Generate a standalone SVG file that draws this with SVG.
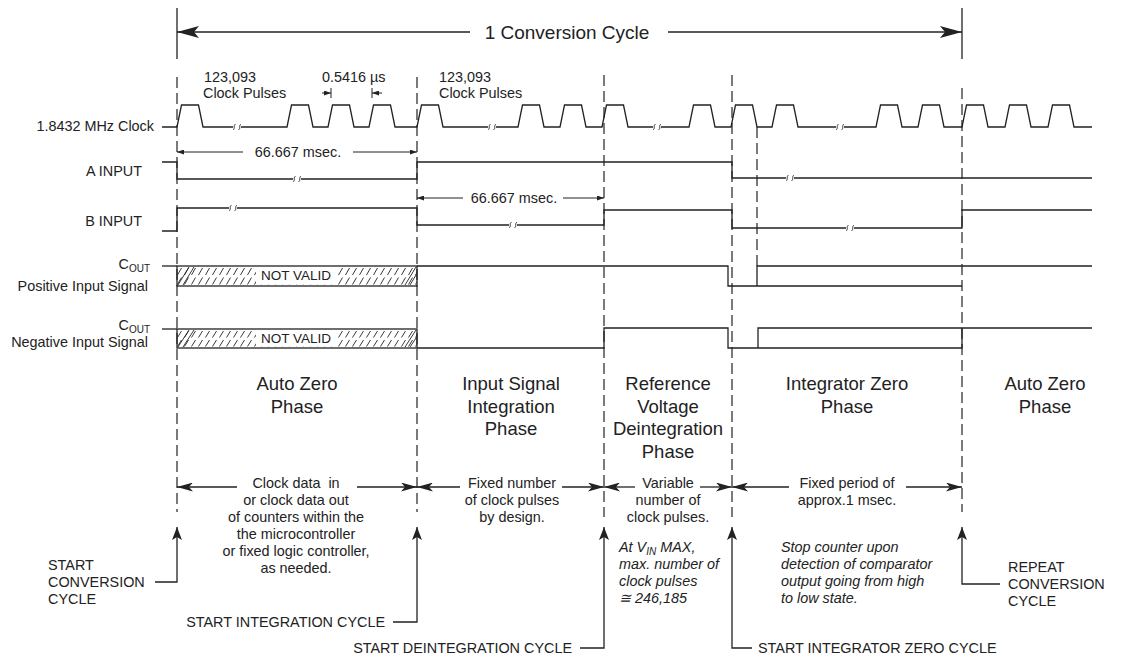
<svg xmlns="http://www.w3.org/2000/svg" width="1128" height="659" viewBox="0 0 1128 659">
<defs>
<style>
.ln{stroke:#222;stroke-width:1.3;fill:none}
.ds{stroke:#222;stroke-width:1.2;stroke-dasharray:11 5;fill:none}
.th{stroke:#222;stroke-width:0.9;fill:none}
text{font-family:"Liberation Sans",Arial,sans-serif;fill:#222}
.t{font-size:14.4px}
.tc{font-size:14.4px;text-anchor:middle}
.te{font-size:14.4px;text-anchor:end}
.ph{font-size:18.5px;text-anchor:middle}
.it{font-size:14.4px;font-style:italic}
.nv{font-size:13.5px;text-anchor:middle}
</style>
<marker id="big" markerUnits="userSpaceOnUse" markerWidth="22" markerHeight="12" viewBox="0 -6 22 12" refX="22" refY="0" orient="auto"><path d="M0,-6 L22,0 L0,6 L5,0 Z" fill="#222"/></marker>
<marker id="mid" markerUnits="userSpaceOnUse" markerWidth="16" markerHeight="9" viewBox="0 -4.5 16 9" refX="16" refY="0" orient="auto"><path d="M0,-4.5 L16,0 L0,4.5 L4,0 Z" fill="#222"/></marker>
<marker id="up" markerUnits="userSpaceOnUse" markerWidth="13" markerHeight="10" viewBox="0 -5 13 10" refX="13" refY="0" orient="auto"><path d="M0,-5 L13,0 L0,5 L3,0 Z" fill="#222"/></marker>
<marker id="sm" markerUnits="userSpaceOnUse" markerWidth="7" markerHeight="5" viewBox="0 -2.5 7 5" refX="7" refY="0" orient="auto"><path d="M0,-2.5 L7,0 L0,2.5 Z" fill="#222"/></marker>
<pattern id="hp" patternUnits="userSpaceOnUse" x="177" y="266" width="7" height="20"><path d="M0.5,9 L4.5,2 M0.5,18.5 L4.5,11.5" class="th"/></pattern>
<pattern id="hn" patternUnits="userSpaceOnUse" x="177" y="329" width="7" height="19"><path d="M0.5,8.5 L4.5,2 M0.5,17.5 L4.5,11" class="th"/></pattern>
<g id="brk"><rect x="-4" y="-1.5" width="8" height="3" fill="#fff"/><path d="M-4,2.5 C-1.5,3 -4,-3 -1.5,-2.5 M1.5,2.5 C4,3 1.5,-3 4,-2.5" stroke="#222" stroke-width="0.8" fill="none"/></g>
</defs>
<rect width="1128" height="659" fill="#fff"/>

<g id="cycle-span">
<line class="ln" x1="177" y1="8" x2="177" y2="59"/>
<line class="ln" x1="962" y1="8" x2="962" y2="59"/>
<line class="ln" x1="470" y1="32" x2="177" y2="32" marker-end="url(#big)"/>
<line class="ln" x1="668" y1="32" x2="962" y2="32" marker-end="url(#big)"/>
<text x="567" y="39" style="font-size:19px;text-anchor:middle">1 Conversion Cycle</text>
</g>

<g id="phase-boundaries">
<path class="ds" d="M177,77 V512 M417,77 V512 M604,75 V517 M732,75 V517 M757,127 V266 M962,88 V512"/>
</g>

<g id="row-labels">
<text class="te" x="154" y="131">1.8432 MHz Clock</text>
<text class="te" x="142" y="176">A INPUT</text>
<text class="te" x="142" y="226">B INPUT</text>
<text class="te" x="150" y="269">C<tspan style="font-size:10px" dy="3">OUT</tspan></text>
<text class="te" x="148" y="291">Positive Input Signal</text>
<text class="te" x="150" y="330">C<tspan style="font-size:10px" dy="3">OUT</tspan></text>
<text class="te" x="148" y="347">Negative Input Signal</text>
</g>

<g id="clock">
<path class="ln" d="M162,127 H177 L181.5,105 H198.5 L203,127 H287 L291.5,105 H308.5 L313,127 H328 L332.5,105 H349.5 L354,127 H369 L373.5,105 H390.5 L395,127 H417 L421.5,105 H438.5 L443,127 H518 L522.5,105 H539.5 L544,127 H560 L564.5,105 H581.5 L586,127 H602 L606.5,105 H623.5 L628,127 H689 L693.5,105 H710.5 L715,127 H731 L735.5,105 H752.5 L757,127 H772 L776.5,105 H793.5 L798,127 H876 L880.5,105 H897.5 L902,127 H918 L922.5,105 H939.5 L944,127 H962 L966.5,105 H983.5 L988,127 H1005 L1009.5,105 H1026.5 L1031,127 H1048 L1052.5,105 H1069.5 L1074,127 H1092"/>
<use href="#brk" x="237" y="127"/>
<use href="#brk" x="492" y="127"/>
<use href="#brk" x="657" y="127"/>
<use href="#brk" x="840" y="127"/>
<text class="t" x="204" y="82">123,093</text>
<text class="t" x="203" y="98">Clock Pulses</text>
<text class="t" x="439" y="82">123,093</text>
<text class="t" x="439" y="98">Clock Pulses</text>
<text class="t" x="322" y="82">0.5416 µs</text>
<line class="ln" x1="322" y1="93" x2="331" y2="93" marker-end="url(#sm)" style="stroke-width:1"/>
<line class="ln" x1="331" y1="88" x2="331" y2="98" style="stroke-width:1"/>
<line class="ln" x1="382" y1="93" x2="372" y2="93" marker-end="url(#sm)" style="stroke-width:1"/>
<line class="ln" x1="372" y1="88" x2="372" y2="98" style="stroke-width:1"/>
</g>

<g id="a-input">
<path class="ln" d="M162,162 H177 V179 H417 V162 H732 V178 H1092"/>
<use href="#brk" x="297" y="179"/>
<use href="#brk" x="790" y="178"/>
<line class="ln" x1="243" y1="152" x2="177" y2="152" marker-end="url(#sm)" style="stroke-width:1"/>
<line class="ln" x1="353" y1="152" x2="417" y2="152" marker-end="url(#sm)" style="stroke-width:1"/>
<text class="tc" x="298" y="157">66.667 msec.</text>
</g>

<g id="b-input">
<path class="ln" d="M162,231 H177 V208 H417 V225 H604 V210 H732 V228 H962 V210 H1092"/>
<use href="#brk" x="233" y="208"/>
<use href="#brk" x="513" y="225"/>
<use href="#brk" x="850" y="228"/>
<line class="ln" x1="463" y1="198" x2="417" y2="198" marker-end="url(#sm)" style="stroke-width:1"/>
<line class="ln" x1="563" y1="198" x2="604" y2="198" marker-end="url(#sm)" style="stroke-width:1"/>
<text class="tc" x="514" y="203">66.667 msec.</text>
</g>

<g id="cout-positive">
<path class="ln" d="M162,266 H177"/>
<rect x="177" y="266" width="240" height="20" fill="url(#hp)"/>
<path class="th" d="M178,285 L189,267 M183,285 L194,267 M405,285 L416,267 M410,285 L416,275"/>
<rect x="256" y="267.5" width="80" height="17" fill="#fff"/>
<rect class="ln" x="177" y="266" width="240" height="20"/>
<text class="nv" x="296" y="280">NOT VALID</text>
<path class="ln" d="M417,266 H728 V286 H757 V266 H1092 M757,286 H962"/>
</g>

<g id="cout-negative">
<path class="ln" d="M162,329 H177"/>
<rect x="177" y="329" width="240" height="19" fill="url(#hn)"/>
<path class="th" d="M178,347 L189,330 M183,347 L194,330 M405,347 L416,330 M410,347 L416,338"/>
<rect x="256" y="330.5" width="80" height="16" fill="#fff"/>
<rect class="ln" x="177" y="329" width="240" height="19"/>
<text class="nv" x="296" y="343">NOT VALID</text>
<path class="ln" d="M417,348 H604 V328 H728 V348 H758 V328 H1092 M758,348 H962 V328"/>
</g>

<g id="phase-names">
<text class="ph" x="297" y="390">Auto Zero</text>
<text class="ph" x="297" y="412.5">Phase</text>
<text class="ph" x="511" y="390">Input Signal</text>
<text class="ph" x="511" y="412.5">Integration</text>
<text class="ph" x="511" y="435">Phase</text>
<text class="ph" x="668" y="390">Reference</text>
<text class="ph" x="668" y="412.5">Voltage</text>
<text class="ph" x="668" y="435">Deintegration</text>
<text class="ph" x="668" y="457.5">Phase</text>
<text class="ph" x="847" y="390">Integrator Zero</text>
<text class="ph" x="847" y="412.5">Phase</text>
<text class="ph" x="1045" y="390">Auto Zero</text>
<text class="ph" x="1045" y="412.5">Phase</text>
</g>

<g id="phase-durations">
<line class="ln" x1="237" y1="487" x2="177" y2="487" marker-end="url(#mid)"/>
<line class="ln" x1="357" y1="487" x2="417" y2="487" marker-end="url(#mid)"/>
<line class="ln" x1="460" y1="487" x2="417" y2="487" marker-end="url(#mid)"/>
<line class="ln" x1="562" y1="487" x2="604" y2="487" marker-end="url(#mid)"/>
<line class="ln" x1="635" y1="487" x2="604" y2="487" marker-end="url(#mid)"/>
<line class="ln" x1="700" y1="487" x2="732" y2="487" marker-end="url(#mid)"/>
<line class="ln" x1="789" y1="487" x2="732" y2="487" marker-end="url(#mid)"/>
<line class="ln" x1="906" y1="487" x2="962" y2="487" marker-end="url(#mid)"/>
<text class="tc" x="296" y="488" style="white-space:pre">Clock data  in</text>
<text class="tc" x="296" y="505">or clock data out</text>
<text class="tc" x="296" y="522">of counters within the</text>
<text class="tc" x="296" y="539">the microcontroller</text>
<text class="tc" x="296" y="556">or fixed logic controller,</text>
<text class="tc" x="296" y="573">as needed.</text>
<text class="tc" x="512" y="488">Fixed number</text>
<text class="tc" x="512" y="505">of clock pulses</text>
<text class="tc" x="512" y="522">by design.</text>
<text class="tc" x="668" y="488">Variable</text>
<text class="tc" x="668" y="505">number of</text>
<text class="tc" x="668" y="522">clock pulses.</text>
<text class="tc" x="847" y="488">Fixed period of</text>
<text class="tc" x="847" y="505">approx.1 msec.</text>
</g>

<g id="notes">
<text class="it" x="619" y="552">At V<tspan style="font-size:10px" dy="3">IN</tspan><tspan dy="-3"> MAX,</tspan></text>
<text class="it" x="619" y="569">max. number of</text>
<text class="it" x="619" y="586">clock pulses</text>
<text class="it" x="619" y="603">≅ 246,185</text>
<text class="it" x="781" y="552">Stop counter upon</text>
<text class="it" x="781" y="569">detection of comparator</text>
<text class="it" x="781" y="586">output going from high</text>
<text class="it" x="781" y="603">to low state.</text>
</g>

<g id="connectors">
<path class="ln" d="M155,582 H177 V527" marker-end="url(#up)"/>
<path class="ln" d="M393,622 H417 V527" marker-end="url(#up)"/>
<path class="ln" d="M580,648 H604 V527" marker-end="url(#up)"/>
<path class="ln" d="M752,648 H732 V527" marker-end="url(#up)"/>
<path class="ln" d="M1000,584 H962 V527" marker-end="url(#up)"/>
</g>

<g id="events">
<text class="t" x="48" y="570">START</text>
<text class="t" x="48" y="587">CONVERSION</text>
<text class="t" x="48" y="604">CYCLE</text>
<text class="te" x="385" y="627">START INTEGRATION CYCLE</text>
<text class="te" x="572" y="653">START DEINTEGRATION CYCLE</text>
<text class="t" x="758" y="653">START INTEGRATOR ZERO CYCLE</text>
<text class="t" x="1008" y="572">REPEAT</text>
<text class="t" x="1008" y="589">CONVERSION</text>
<text class="t" x="1008" y="606">CYCLE</text>
</g>
</svg>
